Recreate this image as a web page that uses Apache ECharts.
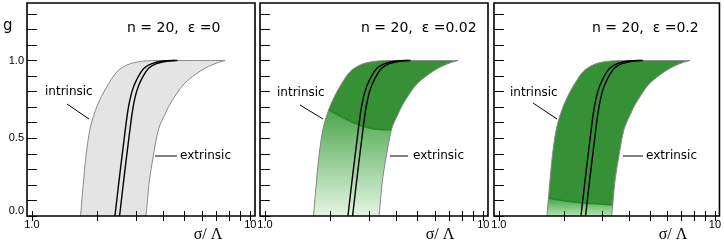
<!DOCTYPE html>
<html><head><meta charset="utf-8">
<script src="https://cdn.jsdelivr.net/npm/echarts@6/dist/echarts.min.js"></script>
<style>html,body{margin:0;padding:0;background:#fff}#c{width:724px;height:242px}</style>
</head><body><div id="c"></div>
<script>
// ---- data (sigma/Lambda, g) ----
const intrinsicCurve = [[1.67,0],[1.715,0.19],[1.77,0.39],[1.846,0.56],[1.956,0.68],[2.084,0.77],[2.243,0.85],[2.441,0.925],[2.712,0.97],[3.076,0.992],[3.566,1]];
const extrinsicCurve = [[3.33,0],[3.383,0.103],[3.454,0.232],[3.597,0.387],[3.795,0.555],[4.071,0.655],[4.333,0.73],[4.971,0.85],[5.945,0.935],[6.891,0.98],[7.66,1]];
const centerCurveA = [[2.40,0],[2.517,0.25],[2.647,0.5],[2.752,0.68],[2.871,0.8],[3.026,0.88],[3.259,0.95],[3.545,0.98],[3.982,0.997],[4.513,1]];
const centerCurveB = [[2.52,0],[2.643,0.25],[2.779,0.5],[2.890,0.68],[3.014,0.8],[3.177,0.88],[3.422,0.95],[3.722,0.98],[4.181,0.997],[4.642,1]];
const dividerEps002 = [[1.96,0.684],[2.3,0.63],[2.65,0.59],[3.16,0.56],[3.795,0.555]];
const dividerEps02 = [[1.70,0.114],[2.2,0.09],[2.7,0.08],[3.36,0.071]];
const panelTitles = ['n = 20,  \u03b5 =0', 'n = 20,  \u03b5 =0.02', 'n = 20,  \u03b5 =0.2'];
const xTickValues = [1,2,3,4,5,6,7,8,9,10];
const xLabelValues = [1,10];
const yTickValues = [0,0.1,0.2,0.3,0.4,0.5,0.6,0.7,0.8,0.9,1.0,1.1,1.2,1.3];
const yLabelValues = [0,0.5,1.0];

// ---- layout ----
const gridLefts = [27, 260, 494];
const gridW = 228, gridTop = 3, gridH = 213;
const xMin = Math.log10(0.95), xMax = Math.log10(10.5);
const yMin = 0, yMax = 1.37;
const L = v => Math.log10(v);
const toXY = pts => pts.map(p => [L(p[0]), p[1]]);

// smooth (Catmull-Rom) path through pixel points
function smoothPiece(pts, start) {
  let d = (start ? 'M' : 'L') + pts[0][0].toFixed(2) + ',' + pts[0][1].toFixed(2);
  const n = pts.length;
  for (let i = 0; i < n - 1; i++) {
    const p0 = pts[Math.max(i-1,0)], p1 = pts[i], p2 = pts[i+1], p3 = pts[Math.min(i+2,n-1)];
    const c1 = [p1[0] + (p2[0]-p0[0])/6, p1[1] + (p2[1]-p0[1])/6];
    const c2 = [p2[0] - (p3[0]-p1[0])/6, p2[1] - (p3[1]-p1[1])/6];
    d += ' C' + c1[0].toFixed(2) + ',' + c1[1].toFixed(2) + ' ' + c2[0].toFixed(2) + ',' + c2[1].toFixed(2) + ' ' + p2[0].toFixed(2) + ',' + p2[1].toFixed(2);
  }
  return d;
}
function pathSeries(pi, pieces, closed, style, z) {
  return {
    type: 'custom', xAxisIndex: pi*2, yAxisIndex: pi*2, silent: true, z: z, clip: false,
    data: [0],
    renderItem: (params, api) => {
      let d = '';
      pieces.forEach((pc, k) => { d += (k ? ' ' : '') + smoothPiece(toXY(pc).map(p => api.coord(p)), k === 0); });
      if (closed) d += ' Z';
      return { type: 'path', shape: { pathData: d }, style: style };
    }
  };
}

const grids = [], xAxes = [], yAxes = [], series = [], graphics = [];

gridLefts.forEach((left, pi) => {
  grids.push({ left: left, top: gridTop, width: gridW, height: gridH, show: true, z: 20, borderColor: '#000', borderWidth: 1.6, backgroundColor: 'transparent' });
  const xBase = {
    type: 'value', gridIndex: pi, min: xMin, max: xMax, z: 20,
    axisLine: { show: false }, splitLine: { show: false },
    axisTick: { show: true, inside: true, length: 5, customValues: xTickValues.map(L), lineStyle: { color: '#000', width: 1 } }
  };
  xAxes.push(Object.assign({}, xBase, {
    position: 'bottom',
    axisLabel: { show: true, customValues: xLabelValues.map(L), margin: 3, fontSize: 11, fontFamily: 'Liberation Sans', color: '#000',
      formatter: v => (Math.abs(v) < 1e-6 ? '1.0' : '10') }
  }));
  xAxes.push(Object.assign({}, xBase, { position: 'top', axisLabel: { show: false } }));
  const yBase = {
    type: 'value', gridIndex: pi, min: yMin, max: yMax, z: 20,
    axisLine: { show: false }, splitLine: { show: false },
    axisTick: { show: true, inside: true, length: 5, customValues: yTickValues, lineStyle: { color: '#000', width: 1 } }
  };
  yAxes.push(Object.assign({}, yBase, {
    position: 'left',
    axisLabel: { show: pi === 0, customValues: yLabelValues, margin: 3, fontSize: 11, fontFamily: 'Liberation Sans', color: '#000',
      formatter: v => v.toFixed(1), verticalAlignMinLabel: 'bottom' }
  }));
  yAxes.push(Object.assign({}, yBase, { position: 'right', axisLabel: { show: false } }));

  const topL = intrinsicCurve[intrinsicCurve.length-1], topR = extrinsicCurve[extrinsicCurve.length-1];
  const extrRev = extrinsicCurve.slice().reverse();
  const fill = pi === 0 ? '#e4e4e4' : '#369136';
  series.push(pathSeries(pi, [intrinsicCurve, [topL, topR], extrRev], true, { fill: fill, stroke: 'none' }, 1));
  if (pi > 0) {
    const div = pi === 1 ? dividerEps002 : dividerEps02;
    const gL = div[0][1], gR = div[div.length-1][1];
    const lowL = intrinsicCurve.filter(p => p[1] < gL).concat([div[0]]);
    const lowR = [div[div.length-1]].concat(extrinsicCurve.filter(p => p[1] < gR).reverse());
    const grad = pi === 1
      ? new echarts.graphic.LinearGradient(0,0,0,1,[{offset:0,color:'#4aa64a'},{offset:1,color:'#e4f5e4'}])
      : new echarts.graphic.LinearGradient(0,0,0,1,[{offset:0,color:'#45a745'},{offset:1,color:'#b5e2b5'}]);
    series.push(pathSeries(pi, [lowL, div, lowR], true, { fill: grad, stroke: 'none' }, 2));
    series.push(pathSeries(pi, [div], false, { fill: 'none', stroke: '#1f8a1f', lineWidth: 1.5 }, 3));
  }
  series.push(pathSeries(pi, [intrinsicCurve, [topL, topR], extrRev], false, { fill: 'none', stroke: '#8a8a8a', lineWidth: 1 }, 3));
  series.push(pathSeries(pi, [centerCurveA], false, { fill: 'none', stroke: '#000', lineWidth: 1.4 }, 4));
  series.push(pathSeries(pi, [centerCurveB], false, { fill: 'none', stroke: '#000', lineWidth: 1.4 }, 4));
});

// ---- annotations (pixel layout) ----
const txt = (text, x, y, font, align) => ({ type: 'text', silent: true, z: 30,
  style: { text: text, x: x, y: y, font: font, fill: '#000', textAlign: align || 'left', textVerticalAlign: 'middle', verticalAlign: 'middle' } });
const seg = (x1, y1, x2, y2) => ({ type: 'line', silent: true, z: 30, shape: { x1, y1, x2, y2 }, style: { stroke: '#000', lineWidth: 1 } });
const labelFont = '12px "DejaVu Sans"';
const titleFont = '14px "DejaVu Sans"';
const nX = [127, 361, 592];
const intr = [[45, 92, 67, 104, 89, 119], [277, 93, 300, 105, 323, 119], [510, 93, 533, 103, 557, 119]];
const extr = [[180, 156, 155, 177], [413, 156, 390, 408], [646, 156, 623, 643]];
const xTitleX = [208, 440, 673];
for (let i = 0; i < 3; i++) {
  graphics.push(txt(panelTitles[i], nX[i], 28, titleFont));
  graphics.push(txt('intrinsic', intr[i][0], intr[i][1], labelFont));
  graphics.push(seg(intr[i][2], intr[i][3], intr[i][4], intr[i][5]));
  graphics.push(txt('extrinsic', extr[i][0], extr[i][1], labelFont));
  graphics.push(seg(extr[i][2], extr[i][1], extr[i][3], extr[i][1]));
  graphics.push(txt('\u03c3/ \u039b', xTitleX[i], 235, '16px "Liberation Serif"', 'center'));
}
graphics.push(txt('g', 3, 26, '15px "DejaVu Sans"'));

const chart = echarts.init(document.getElementById('c'), null, { renderer: 'canvas' });
chart.setOption({
  animation: false,
  backgroundColor: '#fff',
  grid: grids, xAxis: xAxes, yAxis: yAxes, series: series, graphic: graphics
});
</script></body></html>
